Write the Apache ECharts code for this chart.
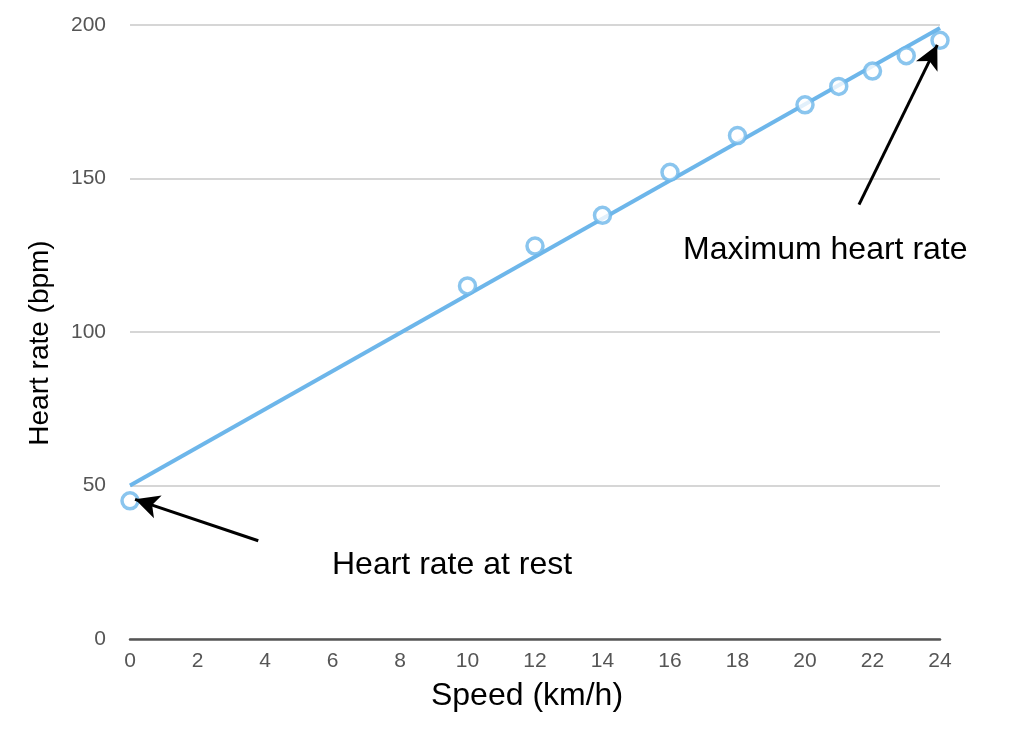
<!DOCTYPE html>
<html>
<head>
<meta charset="utf-8">
<script src="https://cdn.jsdelivr.net/npm/echarts@6/dist/echarts.min.js"></script>
<style>html,body{margin:0;padding:0;background:#fff}#c{width:1024px;height:729px}</style>
</head>
<body>
<div id="c"></div>
<script>
const speeds = [0, 10, 12, 14, 16, 18, 20, 21, 22, 23, 24];
const heartRates = [45, 115, 128, 138, 152, 164, 174, 180, 185, 190, 195];
const trendSpeeds = [0, 24];
const trendRates = [50, 199];
const restArrow = [[3.8, 32], [0.15, 45.5]];
const maxArrow = [[21.6, 141.5], [23.92, 193.5]];
const xTicks = { min: 0, max: 24, interval: 2 };
const yTicks = { min: 0, max: 200, interval: 50 };

const chart = echarts.init(document.getElementById('c'), null, { renderer: 'canvas' });
const font = '"Liberation Sans", Arial, sans-serif';
const blue = '#6db6ea';

chart.setOption({
  animation: false,
  grid: { left: 130, right: 84, top: 25, bottom: 90 },
  xAxis: {
    type: 'value', min: xTicks.min, max: xTicks.max, interval: xTicks.interval,
    name: 'Speed (km/h)', nameLocation: 'middle', nameGap: 41,
    nameTextStyle: { fontFamily: font, fontSize: 32, color: '#000', padding: [0, 16, 0, 0] },
    axisLine: { show: true, lineStyle: { color: '#555', width: 2.5 } },
    axisTick: { show: false },
    splitLine: { show: false },
    axisLabel: { fontFamily: font, fontSize: 21, color: '#555', margin: 12 }
  },
  yAxis: {
    type: 'value', min: yTicks.min, max: yTicks.max, interval: yTicks.interval,
    name: 'Heart rate (bpm)', nameLocation: 'middle', nameGap: 76,
    nameTextStyle: { fontFamily: font, fontSize: 28, color: '#000', padding: [0, 22, 0, 0] },
    axisLine: { show: false },
    axisTick: { show: false },
    splitLine: { show: true, lineStyle: { color: '#c8c8c8', width: 1.5 } },
    axisLabel: { fontFamily: font, fontSize: 21, color: '#555', margin: 24 }
  },
  series: [
    {
      type: 'line',
      data: trendSpeeds.map((x, i) => [x, trendRates[i]]),
      showSymbol: false,
      lineStyle: { color: blue, width: 4 },
      z: 2,
      markLine: {
        silent: true,
        symbol: ['none', 'arrow'],
        symbolSize: [18, 24],
        label: { show: false },
        lineStyle: { color: '#000', width: 3, type: 'solid' },
        data: [
          [{ coord: restArrow[0] }, { coord: restArrow[1] }],
          [{ coord: maxArrow[0] }, { coord: maxArrow[1] }]
        ]
      }
    },
    {
      type: 'scatter',
      data: speeds.map((x, i) => [x, heartRates[i]]),
      symbol: 'circle',
      symbolSize: 16,
      itemStyle: { color: '#fff', borderColor: blue, borderWidth: 3.5 },
      z: 3
    }
  ],
  graphic: [
    { type: 'text', left: 332, top: 549, style: { text: 'Heart rate at rest', font: '32px ' + font, fill: '#000' } },
    { type: 'text', left: 683, top: 234, style: { text: 'Maximum heart rate', font: '32px ' + font, fill: '#000' } }
  ]
});
</script>
</body>
</html>
